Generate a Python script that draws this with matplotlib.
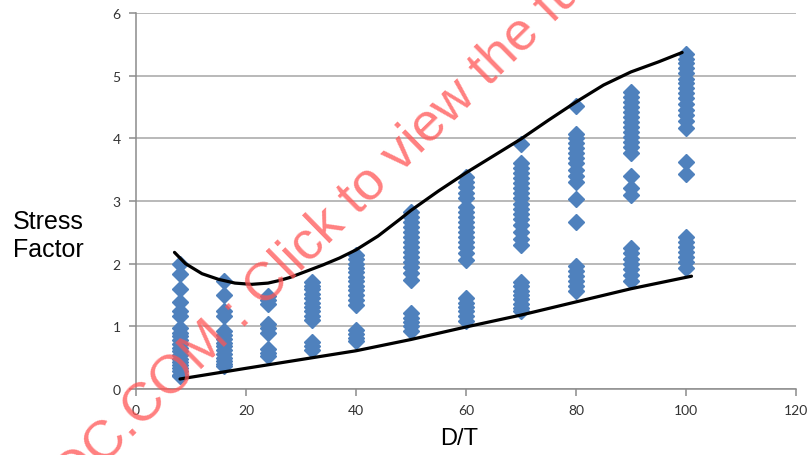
import matplotlib
matplotlib.use("Agg")
import matplotlib.pyplot as plt

# D/T ratios tested and the measured stress factors at each ratio
dt_values = [8, 16, 24, 32, 40, 50, 60, 70, 80, 90, 100]
stress_by_dt = [
    [1.99, 1.83, 1.6, 1.39, 1.24, 1.16, 0.98, 0.9, 0.84, 0.78, 0.72, 0.66, 0.6,
     0.54, 0.48, 0.43, 0.38, 0.33, 0.28, 0.23, 0.2],
    [1.72, 1.5, 1.25, 1.16, 0.93, 0.86, 0.8, 0.74, 0.68, 0.62, 0.56, 0.5, 0.45,
     0.4, 0.36],
    [1.48, 1.42, 1.36, 1.04, 0.97, 0.9, 0.64, 0.58, 0.52],
    [1.71, 1.65, 1.59, 1.52, 1.45, 1.38, 1.31, 1.24, 1.17, 1.1, 0.75, 0.69, 0.63],
    [2.14, 2.07, 2.0, 1.93, 1.86, 1.79, 1.72, 1.65, 1.58, 1.5, 1.42, 1.34, 0.94,
     0.88, 0.82, 0.77],
    [2.83, 2.75, 2.67, 2.58, 2.5, 2.42, 2.34, 2.26, 2.18, 2.1, 2.02, 1.94, 1.85,
     1.74, 1.21, 1.14, 1.07, 1.0, 0.93],
    [3.38, 3.3, 3.22, 3.13, 3.04, 2.9, 2.82, 2.74, 2.66, 2.58, 2.5, 2.42, 2.34,
     2.26, 2.17, 2.06, 1.45, 1.38, 1.31, 1.24, 1.17, 1.09],
    [3.91, 3.6, 3.52, 3.44, 3.36, 3.28, 3.2, 3.12, 3.04, 2.96, 2.88, 2.8, 2.72,
     2.62, 2.5, 2.4, 2.3, 1.71, 1.64, 1.57, 1.5, 1.43, 1.36, 1.3, 1.24],
    [4.52, 4.07, 4.0, 3.92, 3.84, 3.76, 3.68, 3.6, 3.5, 3.4, 3.3, 3.03, 2.66,
     1.96, 1.88, 1.8, 1.72, 1.64, 1.56],
    [4.74, 4.66, 4.58, 4.5, 4.42, 4.34, 4.26, 4.18, 4.1, 4.02, 3.94, 3.86, 3.77,
     3.4, 3.2, 3.1, 2.25, 2.17, 2.08, 2.0, 1.91, 1.82, 1.72],
    [5.34, 5.27, 5.2, 5.13, 5.05, 4.95, 4.88, 4.8, 4.72, 4.64, 4.55, 4.46, 4.37,
     4.27, 4.16, 3.62, 3.43, 2.43, 2.35, 2.27, 2.19, 2.1, 2.02, 1.93],
]

# Hand-drawn envelope curves
upper_x = [7, 9, 12, 15, 18, 21, 24, 26, 28, 31, 34, 37, 40, 44, 48, 50, 55,
           60, 65, 70, 75, 80, 85, 90, 95, 99.3]
upper_y = [2.18, 2.0, 1.84, 1.75, 1.69, 1.67, 1.69, 1.73, 1.78, 1.88, 1.98,
           2.09, 2.22, 2.44, 2.71, 2.85, 3.16, 3.45, 3.72, 3.99, 4.29, 4.58,
           4.85, 5.06, 5.22, 5.37]
lower_x = [8, 20, 30, 40, 50, 60, 70, 80, 90, 101]
lower_y = [0.16, 0.33, 0.47, 0.61, 0.79, 0.99, 1.18, 1.39, 1.6, 1.8]

x_ticks = [0, 20, 40, 60, 80, 100, 120]
y_ticks = [0, 1, 2, 3, 4, 5, 6]

fig = plt.figure(figsize=(8.08, 4.56), dpi=100)
ax = fig.add_axes([136 / 808, 66 / 456, 660 / 808, 376 / 456])

xs, ys = [], []
for dt, vals in zip(dt_values, stress_by_dt):
    xs.extend([dt] * len(vals))
    ys.extend(vals)
ax.plot(xs, ys, linestyle="none", marker="D", markersize=7.8,
        color="#4F81BD", markeredgecolor="#4F81BD", zorder=3)

ax.plot(upper_x, upper_y, color="black", linewidth=2.3, zorder=4,
        solid_capstyle="round")
ax.plot(lower_x, lower_y, color="black", linewidth=2.3, zorder=4,
        solid_capstyle="round")

ax.set_xlim(0, 120)
ax.set_ylim(0, 6)
ax.set_xticks(x_ticks)
ax.set_yticks(y_ticks)
ax.yaxis.grid(True, color="#A6A6A6", linewidth=1.1)
ax.set_axisbelow(True)
for side in ("top", "right"):
    ax.spines[side].set_visible(False)
for side in ("left", "bottom"):
    ax.spines[side].set_color("#8C8C8C")
    ax.spines[side].set_linewidth(1.1)
ax.tick_params(axis="both", colors="#8C8C8C", length=5, width=1.1,
               labelcolor="#333333", labelsize=10)
ax.tick_params(axis="y", pad=6)
ax.tick_params(axis="x", pad=6)
for lab in ax.get_xticklabels() + ax.get_yticklabels():
    lab.set_family("Lato")

fig.text(459 / 808, 1 - 439 / 456, "D/T", ha="center", va="center",
         fontsize=17, family="Liberation Sans")
fig.text(13 / 808, 1 - 236 / 456, "Stress\nFactor", ha="left", va="center",
         fontsize=18, family="Liberation Sans", linespacing=1.2)

fig.text(44 / 808, 1 - 524 / 456, "DOC.COM : Click to view the full document",
         ha="left", va="baseline", rotation=44.5, rotation_mode="anchor",
         fontsize=39, family="Liberation Sans", color="#FF5555", alpha=0.75,
         zorder=10)

fig.savefig("out.png", dpi=100)
